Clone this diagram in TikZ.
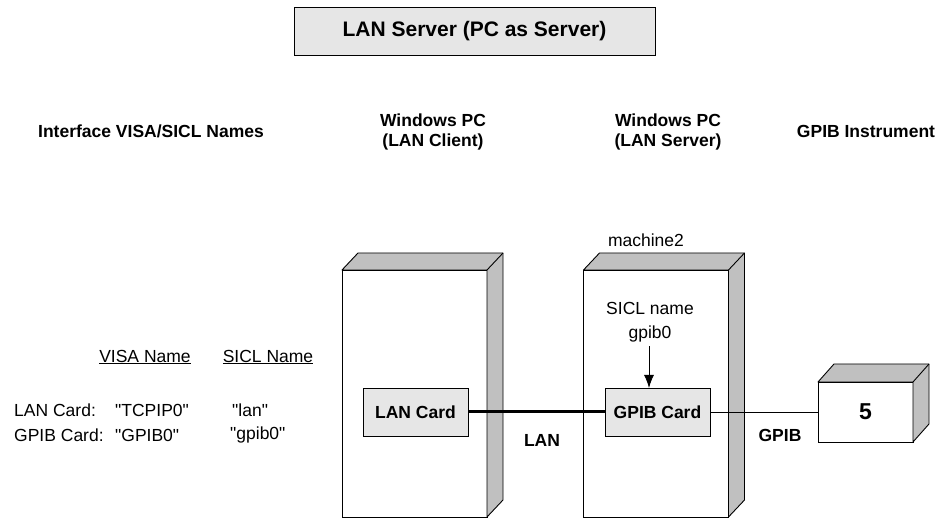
\documentclass[tikz,border=0pt]{standalone}
\usepackage{fontspec}
\setmainfont{Liberation Sans}
\usetikzlibrary{arrows.meta}
\definecolor{cardgray}{HTML}{E6E6E6}
\definecolor{sidegray}{HTML}{C0C0C0}
% straight double quote, kept out of the TeX ligature mapping
\newcommand{\sq}{\XeTeXglyph\XeTeXcharglyph"22\relax}
\tikzset{
  line/.style={line width=0.9pt},
  txt/.style={font=\fontsize{17.5}{20}\selectfont, inner sep=0pt},
  bold/.style={txt, font=\fontsize{17.5}{20}\selectfont\bfseries},
  card/.style={draw, line, fill=cardgray, bold, minimum width=105pt, minimum height=48pt, outer sep=0pt},
  front/.style={draw, line, fill=white, outer sep=0pt},
  sideface/.style={draw, line, fill=sidegray, line join=round},
}
\begin{document}
\begin{tikzpicture}[x=1pt, y=-1pt]
  % Page frame
  \useasboundingbox (0,0) rectangle (946,518);
  % Title
  \node[draw, line, fill=cardgray, minimum width=361pt, minimum height=48pt,
        font=\fontsize{21}{24}\selectfont\bfseries] (title) at (474.5,31) {LAN Server (PC as Server)};
  % Column headers
  \node[bold] (hnames) at (151,131) {Interface VISA/SICL Names};
  \node[bold, align=center] (hclient) at (433,132) {Windows PC\\(LAN Client)};
  \node[bold, align=center] (hserver) at (668,132) {Windows PC\\(LAN Server)};
  \node[bold] (hinst) at (866,131) {GPIB Instrument};
  \node[txt] (mach) at (646,240) {machine2};
  % PC boxes (front face + depth)
  \foreach \nm/\cx in {client/414.5, server/656} {
    \node[front, minimum width=145pt, minimum height=247pt] (\nm) at (\cx,393.5) {};
    \draw[sideface] (\nm.north west) -- ++(16,-17) -- ++(145,0) -- ++(0,247)
      -- (\nm.south east) -- (\nm.north east) -- cycle;
    \draw[line] (\nm.north east) -- ++(16,-17);
  }
  % Instrument box
  \node[front, bold, font=\fontsize{23}{26}\selectfont\bfseries,
        minimum width=95pt, minimum height=60pt] (inst) at (865.5,412) {5};
  \draw[sideface] (inst.north west) -- ++(16,-18) -- ++(95,0) -- ++(0,60)
    -- (inst.south east) -- (inst.north east) -- cycle;
  \draw[line] (inst.north east) -- ++(16,-18);
  % Interface cards
  \node[card] (lcard) at (415.5,412) {LAN Card};
  \node[card] (gcard) at (657.5,412) {GPIB Card};
  % Cables
  \draw[line width=3pt] (lcard.east) -- (gcard.west);
  \draw[line] (gcard.east) -- (inst.west);
  \node[bold] (llan) at (542,440) {LAN};
  \node[bold] (lgpib) at (780,435) {GPIB};
  % SICL name pointer
  \node[txt, align=center, font=\fontsize{17.5}{24}\selectfont] (sicl) at (650,322) {SICL name\\gpib0};
  \draw[line, -{Latex[length=13pt, width=10pt]}] (sicl.south -| 649,0) ++(0,4) -- (649,388);
  % Names table
  \node[txt] (visa) at (145,357) {\underline{VISA Name}};
  \node[txt] (sicln) at (268,357) {\underline{SICL Name}};
  \node[txt, anchor=west] (rlan) at (14,410) {LAN Card:};
  \node[txt, anchor=west] (rgpib) at (14,435) {GPIB Card:};
  \node[txt, anchor=west] (vlan) at (115,410) {\sq TCPIP0\sq};
  \node[txt, anchor=west] (vgpib) at (115,435) {\sq GPIB0\sq};
  \node[txt, anchor=west] (slan) at (232,410) {\sq lan\sq};
  \node[txt, anchor=west] (sgpib) at (230,435) {\sq gpib0\sq};
\end{tikzpicture}
\end{document}
